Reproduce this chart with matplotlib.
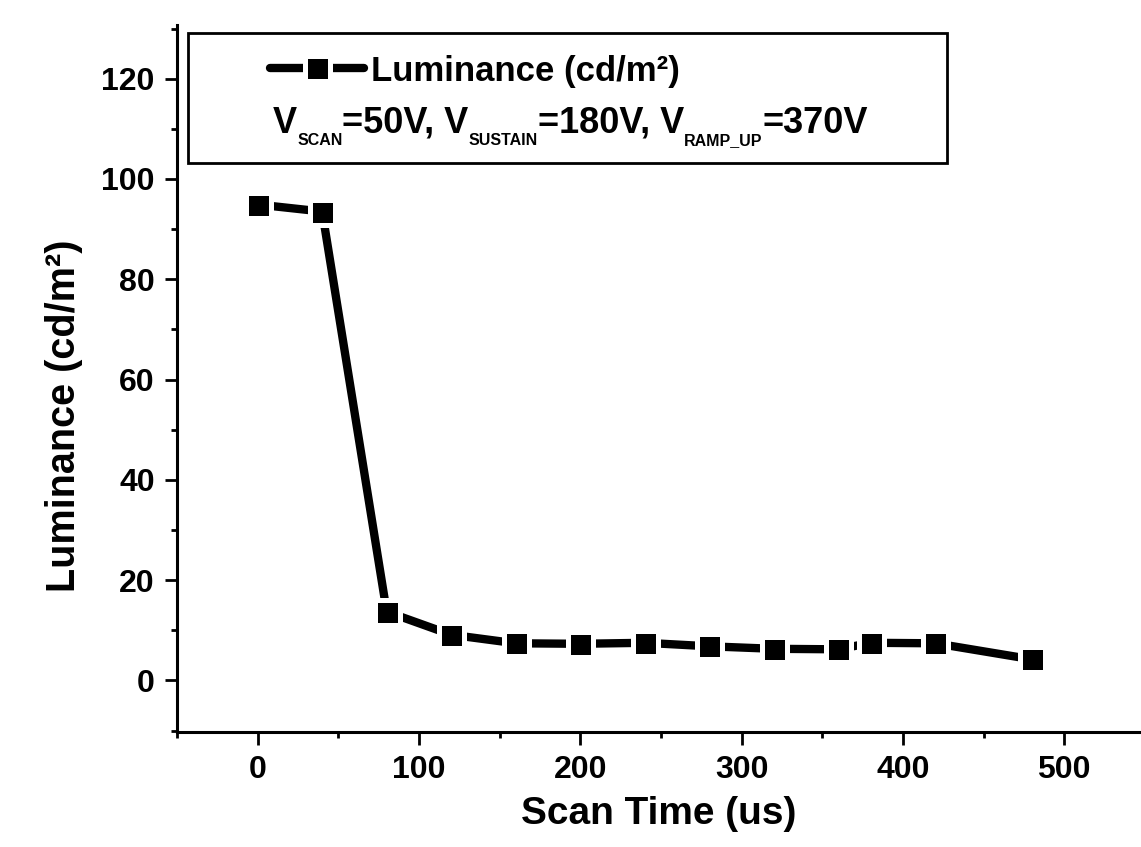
import matplotlib
matplotlib.use('Agg')
import matplotlib.pyplot as plt
from matplotlib.ticker import MultipleLocator
from matplotlib.patches import Rectangle

# ---- data ----
scan_time = [0, 40, 80, 120, 160, 200, 240, 280, 320, 360, 380, 420, 480]
luminance = [94.9, 93.5, 13.7, 9.1, 7.4, 7.3, 7.5, 6.8, 6.3, 6.2, 7.5, 7.4, 4.2]
x_ticks = [0, 100, 200, 300, 400, 500]
y_ticks = [0, 20, 40, 60, 80, 100, 120]
series_label = 'Luminance (cd/m²)'
x_label = 'Scan Time (us)'
y_label = 'Luminance (cd/m²)'
cond_pieces = [('V', False), ('SCAN', True), ('=50V, V', False), ('SUSTAIN', True),
               ('=180V, V', False), ('RAMP_UP', True), ('=370V', False)]

W, H = 1141, 847
plt.rcParams['font.family'] = ['Liberation Sans', 'DejaVu Sans']
plt.rcParams['font.weight'] = 'bold'

fig = plt.figure(figsize=(W / 100, H / 100), dpi=100)
ax = fig.add_axes([177 / W, 1 - 732.3 / H, (1140 - 177) / W, (732.3 - 25) / H])

line, = ax.plot(scan_time, luminance, color='black', lw=6, marker='s', ms=18,
                mfc='black', mec='white', mew=3.6, solid_capstyle='round',
                clip_on=False, zorder=3)

ax.set_xlim(-50, 547)
ax.set_ylim(-10.35, 130.7)
ax.set_xticks(x_ticks)
ax.set_yticks(y_ticks)
ax.xaxis.set_minor_locator(MultipleLocator(50))
ax.yaxis.set_minor_locator(MultipleLocator(10))

for s in ['top', 'right']:
    ax.spines[s].set_visible(False)
for s in ['left', 'bottom']:
    ax.spines[s].set_linewidth(2.2)

ax.tick_params(which='major', direction='out', length=9, width=2, labelsize=23, pad=7)
ax.tick_params(which='minor', direction='out', length=4.5, width=2)

ax.set_xlabel(x_label, fontsize=28, fontweight='bold', labelpad=8)
ax.set_ylabel(y_label, fontsize=28.5, fontweight='bold')
ax.yaxis.set_label_coords(-0.098, 0.447)

# legend frame
fig.patches.append(Rectangle((188 / W, 1 - 163 / H), (947 - 188) / W, (163 - 33) / H,
                             transform=fig.transFigure, fill=False, lw=2, ec='black'))

fig.legend([line], [series_label], loc='center left',
           bbox_to_anchor=(270 / W, 1 - 71 / H), frameon=False,
           handlelength=2.7, handletextpad=0.2, borderpad=0, borderaxespad=0,
           numpoints=1, prop={'weight': 'bold', 'size': 25})

# condition line with subscripts
renderer = fig.canvas.get_renderer()
x = 273.0
base = 133.0
for text, sub in cond_pieces:
    if sub:
        t = fig.text(x / W, 1 - (base + 12) / H, text, fontsize=11.5,
                     fontweight='bold', ha='left', va='baseline')
    else:
        t = fig.text(x / W, 1 - base / H, text, fontsize=26,
                     fontweight='bold', ha='left', va='baseline')
    bb = t.get_window_extent(renderer)
    x += bb.width

fig.savefig('out.png', dpi=100)
